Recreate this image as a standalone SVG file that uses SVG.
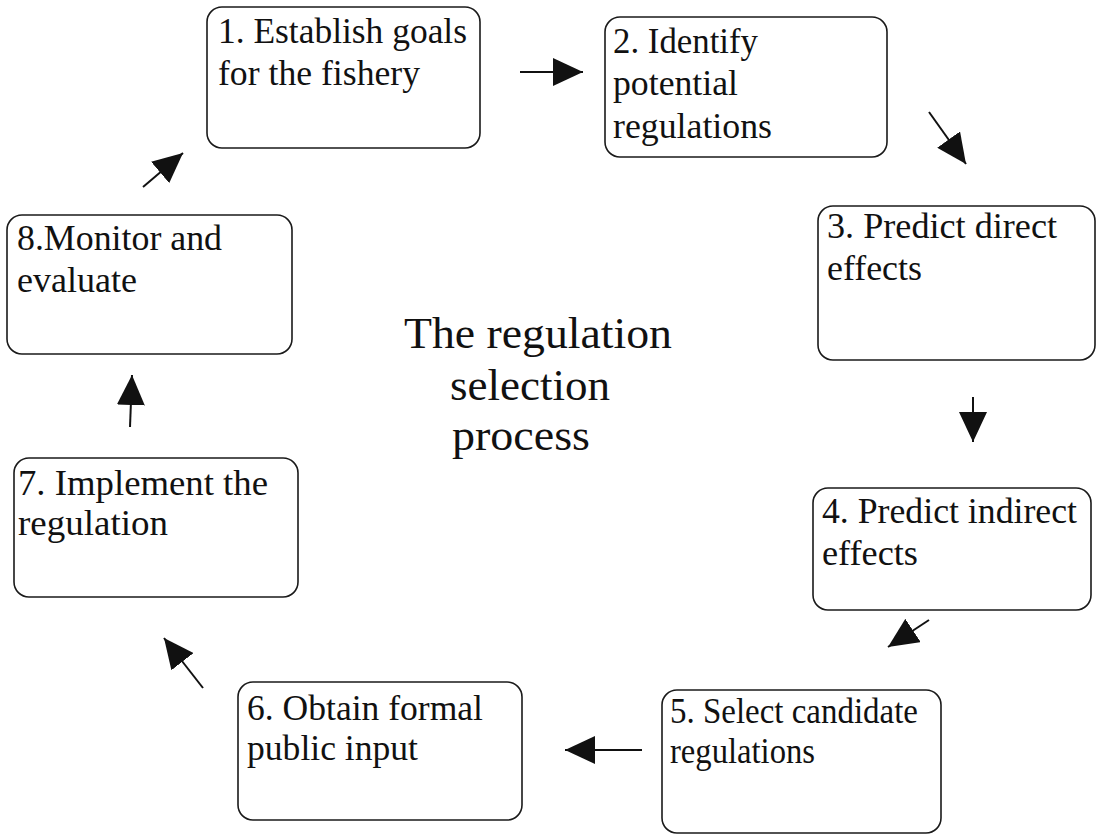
<svg xmlns="http://www.w3.org/2000/svg" width="1096" height="835" viewBox="0 0 1096 835">
<defs>
<style>
.box{fill:#fff;stroke:#1a1a1a;stroke-width:1.6}
.t{font-family:"Liberation Serif","Times New Roman",serif;font-size:35px;fill:#111}
.c{font-family:"Liberation Serif","Times New Roman",serif;font-size:44px;fill:#111}
.ln{stroke:#111;stroke-width:2;fill:none}
</style>
<marker id="ah" viewBox="0 0 30 28" refX="30" refY="14" markerWidth="30" markerHeight="28" markerUnits="userSpaceOnUse" orient="auto">
<path d="M0,0 L30,14 L0,28 Z" fill="#111"/>
</marker>
</defs>
<rect width="1096" height="835" fill="#fff"/>
<g id="n1"><rect class="box" x="207" y="7" width="273" height="141" rx="15"/>
<text class="t" x="218" y="43" textLength="249" lengthAdjust="spacingAndGlyphs">1. Establish goals</text><text class="t" x="218" y="85" textLength="202" lengthAdjust="spacingAndGlyphs">for the fishery</text></g>
<g id="n2"><rect class="box" x="605" y="17" width="282" height="140" rx="15"/>
<text class="t" x="613" y="53" textLength="145" lengthAdjust="spacingAndGlyphs">2. Identify</text><text class="t" x="613" y="95" textLength="125" lengthAdjust="spacingAndGlyphs">potential</text><text class="t" x="613" y="138" textLength="159" lengthAdjust="spacingAndGlyphs">regulations</text></g>
<g id="n3"><rect class="box" x="818" y="206" width="277" height="154" rx="15"/>
<text class="t" x="827" y="238" textLength="230" lengthAdjust="spacingAndGlyphs">3. Predict direct</text><text class="t" x="827" y="280" textLength="95" lengthAdjust="spacingAndGlyphs">effects</text></g>
<g id="n4"><rect class="box" x="813" y="488" width="278" height="122" rx="15"/>
<text class="t" x="822" y="523" textLength="255" lengthAdjust="spacingAndGlyphs">4. Predict indirect</text><text class="t" x="822" y="565" textLength="96" lengthAdjust="spacingAndGlyphs">effects</text></g>
<g id="n5"><rect class="box" x="662" y="690" width="279" height="143" rx="15"/>
<text class="t" x="670" y="723" textLength="248" lengthAdjust="spacingAndGlyphs">5. Select candidate</text><text class="t" x="670" y="763" textLength="145" lengthAdjust="spacingAndGlyphs">regulations</text></g>
<g id="n6"><rect class="box" x="238" y="682" width="284" height="138" rx="15"/>
<text class="t" x="247" y="720" textLength="236" lengthAdjust="spacingAndGlyphs">6. Obtain formal</text><text class="t" x="247" y="760" textLength="171" lengthAdjust="spacingAndGlyphs">public input</text></g>
<g id="n7"><rect class="box" x="14" y="458" width="284" height="139" rx="15"/>
<text class="t" x="18" y="495" textLength="250" lengthAdjust="spacingAndGlyphs">7. Implement the</text><text class="t" x="18" y="535" textLength="150" lengthAdjust="spacingAndGlyphs">regulation</text></g>
<g id="n8"><rect class="box" x="7" y="215" width="285" height="139" rx="15"/>
<text class="t" x="17" y="250" textLength="205" lengthAdjust="spacingAndGlyphs">8.Monitor and</text><text class="t" x="17" y="292" textLength="120" lengthAdjust="spacingAndGlyphs">evaluate</text></g>
<g id="title">
<text class="c" x="404" y="348" textLength="268" lengthAdjust="spacingAndGlyphs">The regulation</text>
<text class="c" x="450" y="400" textLength="160" lengthAdjust="spacingAndGlyphs">selection</text>
<text class="c" x="452" y="450" textLength="138" lengthAdjust="spacingAndGlyphs">process</text>
</g>
<g id="connectors">
<line class="ln" x1="520" y1="72" x2="583" y2="72" marker-end="url(#ah)"/>
<line class="ln" x1="929" y1="112" x2="966" y2="164" marker-end="url(#ah)"/>
<line class="ln" x1="973" y1="397" x2="973" y2="442" marker-end="url(#ah)"/>
<line class="ln" x1="929" y1="620" x2="888" y2="647" marker-end="url(#ah)"/>
<line class="ln" x1="642" y1="750" x2="565" y2="750" marker-end="url(#ah)"/>
<line class="ln" x1="203" y1="688" x2="164" y2="638" marker-end="url(#ah)"/>
<line class="ln" x1="130" y1="427" x2="132" y2="375" marker-end="url(#ah)"/>
<line class="ln" x1="143" y1="187" x2="183" y2="153" marker-end="url(#ah)"/>
</g>
</svg>
